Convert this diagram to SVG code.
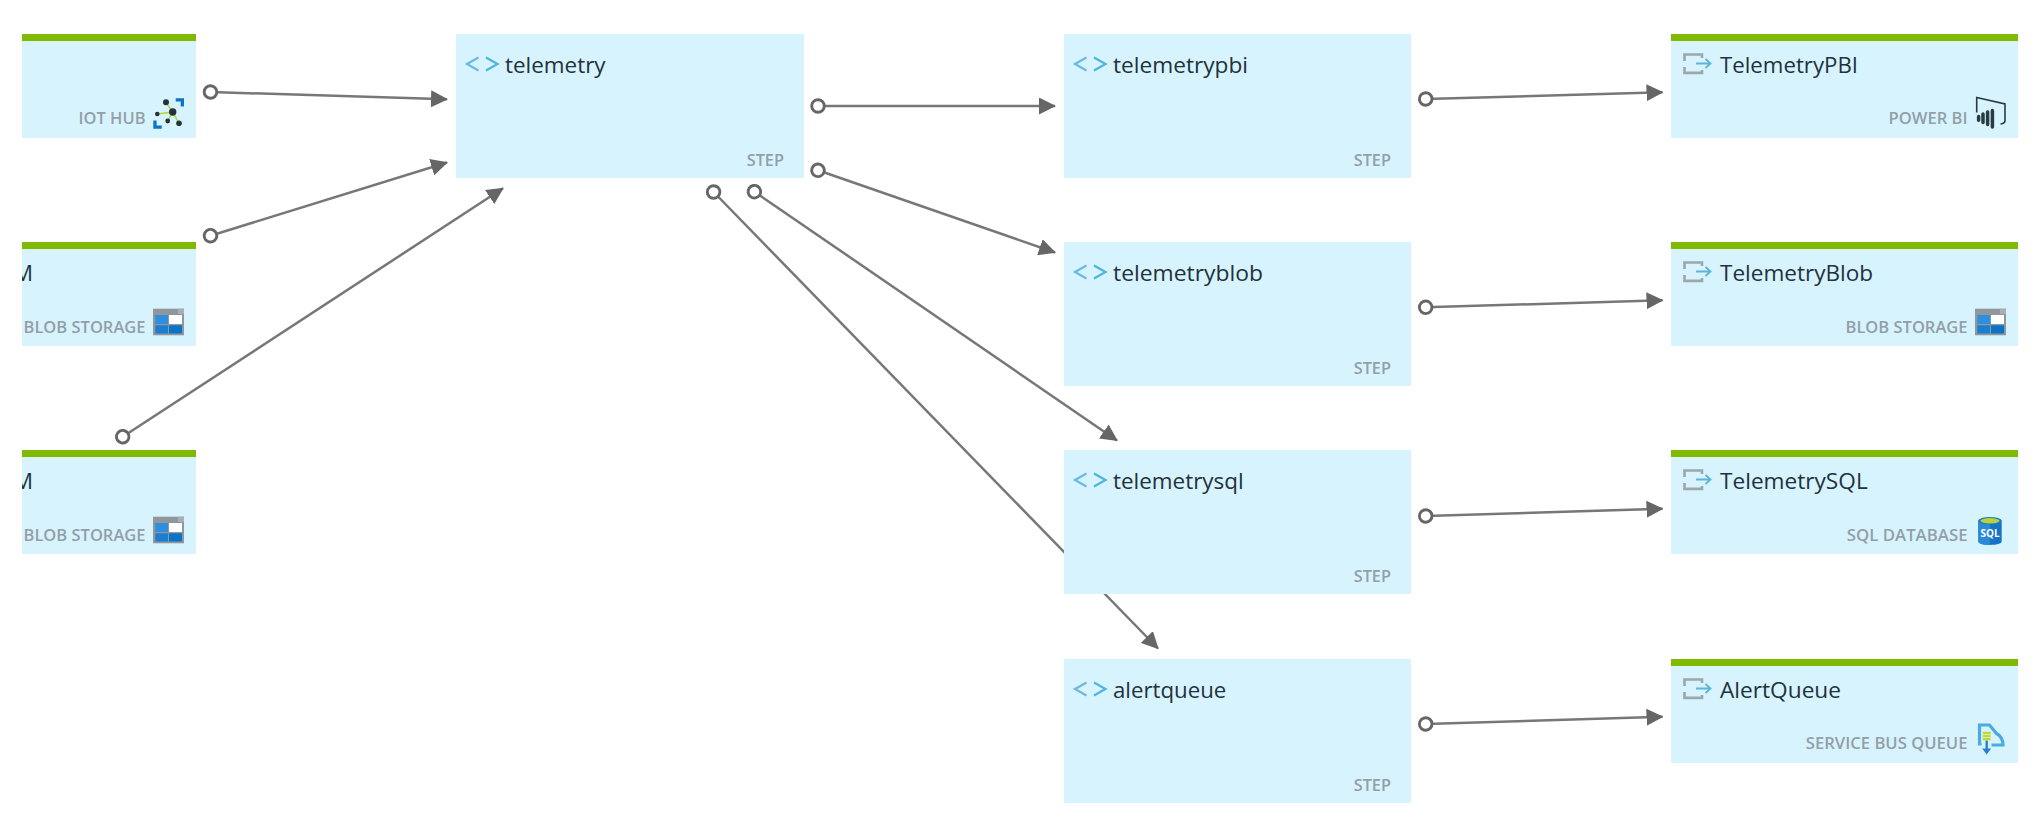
<svg xmlns="http://www.w3.org/2000/svg" width="2042" height="829" viewBox="0 0 2042 829">
<style>
.bg{fill:#d7f4fe}
.bar{fill:#7fba00}
.title{font-family:"Open Sans","Noto Sans","Liberation Sans",sans-serif;font-size:22px;fill:#22313c}
.kind{font-family:"Open Sans","Noto Sans","Liberation Sans",sans-serif;font-size:16px;font-weight:600;fill:#929fa7;text-anchor:end}
.conn{fill:none;stroke:#777;stroke-width:2.5;marker-start:url(#port);marker-end:url(#head)}
</style>
<defs>
<marker id="head" markerUnits="userSpaceOnUse" viewBox="0 0 17 17" markerWidth="17" markerHeight="17" refX="16" refY="8.5" orient="auto"><path d="M0,0L17,8.5L0,17z" fill="#666"/></marker>
<marker id="port" markerUnits="userSpaceOnUse" viewBox="0 0 18 18" markerWidth="18" markerHeight="18" refX="9" refY="9" orient="auto"><circle cx="9" cy="9" r="6.3" fill="#fff" stroke="#666" stroke-width="2.9"/></marker>
<clipPath id="leftclip"><rect x="22" y="0" width="174" height="829"/></clipPath>
<g id="chev" fill="none" stroke-width="2.2"><path d="M22.5,-6.5L11,0L22.5,6.5" stroke="#6cbad8"/><path d="M30,-6.5L41.5,0L30,6.5" stroke="#4ab7dc"/></g>
<g id="out" fill="none" stroke-width="2.7"><path d="M13.5,27V20.5H31V24M13.5,33V38.8H31V36" stroke="#9da7ad"/><path d="M25,29.5H39M34.5,25L39.5,29.5L34.5,34" stroke="#5ab6da" stroke-width="1.8"/></g>
<g id="blob"><rect width="31" height="26.6" fill="#8f979c"/><path d="M25,0H31V5.3L25,5.3z" fill="#a9afb3"/><rect x="2.3" y="6.3" width="12.7" height="9" fill="#2f8fdd"/><rect x="16" y="6.3" width="13" height="9" fill="#fff"/><rect x="2.3" y="16.6" width="12.7" height="8.2" fill="#1b7ed0"/><rect x="16" y="16.6" width="13" height="8.2" fill="#0a72c8"/></g>
</defs>
<rect width="2042" height="829" fill="#fff"/>
<g id="connectors">
<line class="conn" x1="210.5" y1="92" x2="447" y2="99.3"/>
<line class="conn" x1="210.5" y1="235.7" x2="447" y2="162.5"/>
<line class="conn" x1="122.7" y1="436.7" x2="503" y2="188.3"/>
<line class="conn" x1="818" y1="106" x2="1055" y2="106"/>
<line class="conn" x1="818" y1="170.3" x2="1055" y2="252.5"/>
<line class="conn" x1="754.4" y1="191.7" x2="1117" y2="440.5"/>
<line class="conn" x1="713.6" y1="192" x2="1158" y2="648.5"/>
<line class="conn" x1="1425.7" y1="99" x2="1662.5" y2="92.3"/>
<line class="conn" x1="1425.7" y1="307.3" x2="1662.5" y2="300.3"/>
<line class="conn" x1="1425.7" y1="516" x2="1662.5" y2="508.7"/>
<line class="conn" x1="1425.7" y1="724" x2="1662.5" y2="716.7"/>
</g>
<g id="iothub-input">
<rect class="bg" x="22" y="34" width="174" height="104" rx="1"/><rect class="bar" x="22" y="34" width="174" height="7"/>
<text class="kind" x="145.5" y="124.3" textLength="67" lengthAdjust="spacingAndGlyphs">IOT HUB</text>
<path d="M172.7,112L166,102.3M172.7,112L157.3,114M172.7,112L167.7,121M172.7,112L179,123.3" stroke="#b5d334" stroke-width="1.4" fill="none"/>
<g fill="#25323a"><circle cx="172.7" cy="112" r="3.7"/><circle cx="166" cy="102.3" r="3"/><circle cx="157.3" cy="114" r="2.3"/><circle cx="167.7" cy="121" r="2.4"/><circle cx="179" cy="123.3" r="2.8"/></g>
<path d="M175.7,98.3H184V106.5H180.7V101.5H175.7zM153.3,120.5H156.6V125.5H161.7V128.7H153.3z" fill="#0f72c9"/>
</g>
<g id="blob-input-1">
<rect class="bg" x="22" y="242" width="174" height="104" rx="1"/><rect class="bar" x="22" y="242" width="174" height="7"/>
<text class="title" x="33" y="280.7" text-anchor="end" clip-path="url(#leftclip)">M</text>
<text class="kind" x="145.5" y="332.7" textLength="122" lengthAdjust="spacingAndGlyphs">BLOB STORAGE</text>
<use href="#blob" x="153" y="308.7"/>
</g>
<g id="blob-input-2">
<rect class="bg" x="22" y="450" width="174" height="104" rx="1"/><rect class="bar" x="22" y="450" width="174" height="7"/>
<text class="title" x="33" y="488.7" text-anchor="end" clip-path="url(#leftclip)">M</text>
<text class="kind" x="145.5" y="540.7" textLength="122" lengthAdjust="spacingAndGlyphs">BLOB STORAGE</text>
<use href="#blob" x="153" y="516.7"/>
</g>
<g id="step-telemetry">
<rect class="bg" x="456" y="34" width="348" height="144"/>
<use href="#chev" x="456" y="64"/>
<text class="title" x="505" y="72.7" textLength="100.6" lengthAdjust="spacingAndGlyphs">telemetry</text>
<text class="kind" x="784" y="166" textLength="37.3" lengthAdjust="spacingAndGlyphs">STEP</text>
</g>
<g id="step-telemetrypbi">
<rect class="bg" x="1064" y="34" width="347" height="144"/>
<use href="#chev" x="1064" y="64"/>
<text class="title" x="1113" y="72.7" textLength="135" lengthAdjust="spacingAndGlyphs">telemetrypbi</text>
<text class="kind" x="1391" y="166" textLength="37.3" lengthAdjust="spacingAndGlyphs">STEP</text>
</g>
<g id="step-telemetryblob">
<rect class="bg" x="1064" y="242" width="347" height="144"/>
<use href="#chev" x="1064" y="272"/>
<text class="title" x="1113" y="280.7" textLength="150" lengthAdjust="spacingAndGlyphs">telemetryblob</text>
<text class="kind" x="1391" y="374" textLength="37.3" lengthAdjust="spacingAndGlyphs">STEP</text>
</g>
<g id="step-telemetrysql">
<rect class="bg" x="1064" y="450" width="347" height="144"/>
<use href="#chev" x="1064" y="480"/>
<text class="title" x="1113" y="488.7" textLength="130.7" lengthAdjust="spacingAndGlyphs">telemetrysql</text>
<text class="kind" x="1391" y="582" textLength="37.3" lengthAdjust="spacingAndGlyphs">STEP</text>
</g>
<g id="step-alertqueue">
<rect class="bg" x="1064" y="659" width="347" height="144"/>
<use href="#chev" x="1064" y="689"/>
<text class="title" x="1113" y="697.7" textLength="113.3" lengthAdjust="spacingAndGlyphs">alertqueue</text>
<text class="kind" x="1391" y="791" textLength="37.3" lengthAdjust="spacingAndGlyphs">STEP</text>
</g>
<g id="output-telemetrypbi">
<rect class="bg" x="1671" y="34" width="347" height="104" rx="1"/><rect class="bar" x="1671" y="34" width="347" height="7"/>
<use href="#out" x="1671" y="34"/>
<text class="title" x="1720" y="72.7" textLength="138" lengthAdjust="spacingAndGlyphs">TelemetryPBI</text>
<text class="kind" x="1967.5" y="124.3" textLength="79" lengthAdjust="spacingAndGlyphs">POWER BI</text>
<path d="M1976.7,112.5V97.5L2005,104V120.5Q2005,123.5 2000.5,124" fill="none" stroke="#2b3a42" stroke-width="1.6"/>
<path d="M1978.6,116.5V120.3M1983,114V122.5M1987.6,112V124.5M1992.4,110.5V127" fill="none" stroke="#2b3a42" stroke-width="3.5" stroke-linecap="round"/>
</g>
<g id="output-telemetryblob">
<rect class="bg" x="1671" y="242" width="347" height="104" rx="1"/><rect class="bar" x="1671" y="242" width="347" height="7"/>
<use href="#out" x="1671" y="242"/>
<text class="title" x="1720" y="280.7" textLength="153" lengthAdjust="spacingAndGlyphs">TelemetryBlob</text>
<text class="kind" x="1967.5" y="332.7" textLength="122" lengthAdjust="spacingAndGlyphs">BLOB STORAGE</text>
<use href="#blob" x="1975" y="308.7"/>
</g>
<g id="output-telemetrysql">
<rect class="bg" x="1671" y="450" width="347" height="104" rx="1"/><rect class="bar" x="1671" y="450" width="347" height="7"/>
<use href="#out" x="1671" y="450"/>
<text class="title" x="1720" y="488.7" textLength="147.7" lengthAdjust="spacingAndGlyphs">TelemetrySQL</text>
<text class="kind" x="1967.5" y="540.7" textLength="120.7" lengthAdjust="spacingAndGlyphs">SQL DATABASE</text>
<path d="M1978.3,520.5V541.5C1978.3,546 2001.7,546 2001.7,541.5V520.5z" fill="#1773c7"/>
<path d="M1978.3,520.5V541.5C1978.3,544 1984,545 1990,545V520.5z" fill="#2a8ad6"/>
<ellipse cx="1990" cy="520.8" rx="11.7" ry="3.8" fill="#1b7cc9"/>
<ellipse cx="1990" cy="520.8" rx="9.5" ry="2.7" fill="#b8d432"/>
<text x="1990" y="536.6" text-anchor="middle" font-family="'Open Sans','Liberation Sans',sans-serif" font-size="10px" font-weight="700" fill="#fff">SQL</text>
</g>
<g id="output-alertqueue">
<rect class="bg" x="1671" y="659" width="347" height="104" rx="1"/><rect class="bar" x="1671" y="659" width="347" height="7"/>
<use href="#out" x="1671" y="659"/>
<text class="title" x="1720" y="697.7" textLength="121" lengthAdjust="spacingAndGlyphs">AlertQueue</text>
<text class="kind" x="1967.5" y="749.3" textLength="161.7" lengthAdjust="spacingAndGlyphs">SERVICE BUS QUEUE</text>
<path d="M1981.5,744H1979.5V725H1989.5L1996.5,733.5Q2003,737 2003,745H1991.5" fill="none" stroke="#49abe0" stroke-width="3.2"/>
<path d="M1982.7,731.7H1990.7V734.3H1982.7zM1982.7,735H1990.7V737.3H1982.7zM1982.7,738H1990.7V740.3H1982.7z" fill="#c4d92e"/>
<path d="M1986.7,740.5V750" stroke="#2a7fc9" stroke-width="2.4"/>
<path d="M1982.2,748.5H1991.2L1986.7,754.5z" fill="#2a7fc9"/>
</g>
</svg>
